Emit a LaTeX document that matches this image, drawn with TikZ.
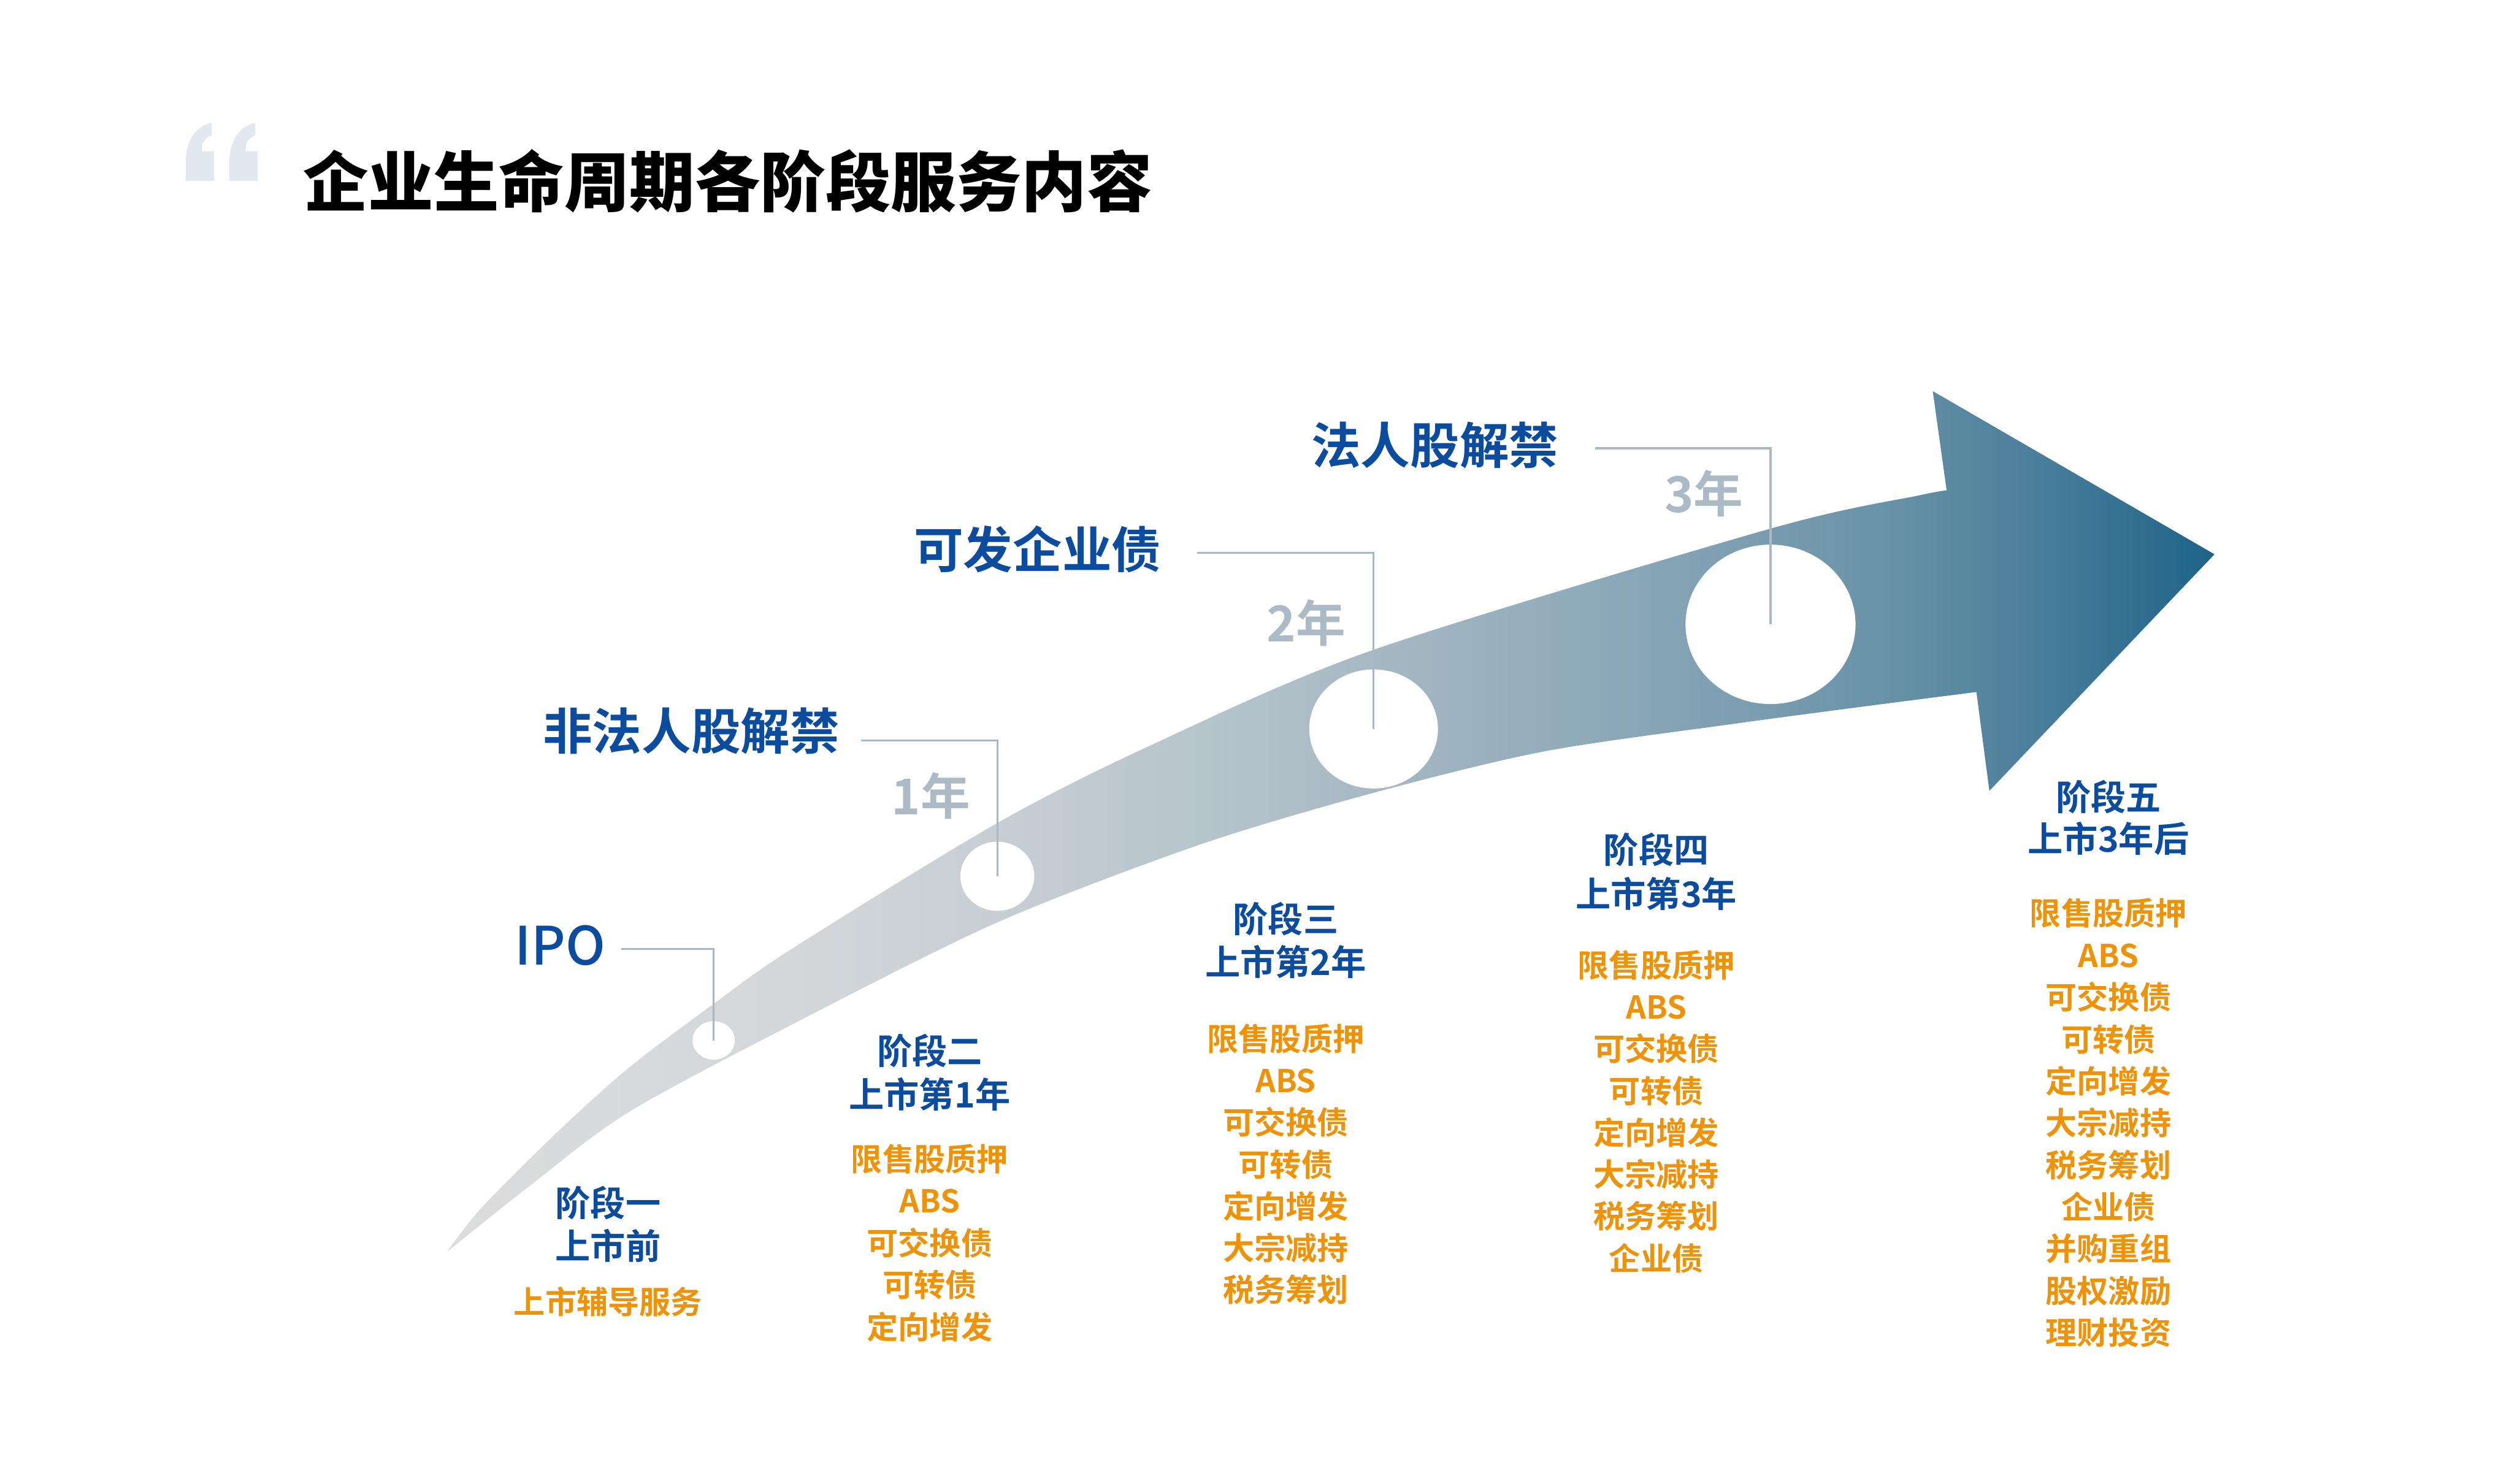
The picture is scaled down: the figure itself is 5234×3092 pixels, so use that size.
\documentclass[tikz,border=0pt]{standalone}
\usepackage{fontspec}
\setmainfont{Noto Sans CJK SC}
\IfFontExistsTF{Noto Sans CJK SC Black}{\newfontfamily\cjkt{Noto Sans CJK SC Black}}{\newfontfamily\cjkt{Noto Sans CJK SC Bold}}
\IfFontExistsTF{Noto Sans CJK SC Medium}{\newfontfamily\cjkm{Noto Sans CJK SC Medium}}{\newfontfamily\cjkm{Noto Sans CJK SC}}
\newfontfamily\cjkb{Noto Sans CJK SC Bold}
\usetikzlibrary{shapes.geometric}
\definecolor{blue1}{HTML}{0B4C9E}
\definecolor{org1}{HTML}{EE9208}
\definecolor{grey1}{HTML}{ABBAC5}
\definecolor{line1}{HTML}{A9B8C3}
\definecolor{quote1}{HTML}{E1E8F0}
\definecolor{s0}{HTML}{DCDCDC}
\definecolor{s1}{HTML}{D3D7DA}
\definecolor{s2}{HTML}{C7CFD4}
\definecolor{s3}{HTML}{B3C2CA}
\definecolor{s4}{HTML}{A7B9C3}
\definecolor{s5}{HTML}{8AA7B7}
\definecolor{s6}{HTML}{6A93A8}
\definecolor{s7}{HTML}{4A7E9B}
\definecolor{s8}{HTML}{1E6388}
\pgfdeclarehorizontalshading{arrowshade}{100bp}{color(0bp)=(s0); color(25bp)=(s0); color(34.75bp)=(s1); color(40.5bp)=(s2); color(47.5bp)=(s3); color(51bp)=(s4); color(58.5bp)=(s5); color(65.5bp)=(s6); color(70bp)=(s7); color(75bp)=(s8); color(100bp)=(s8)}
\tikzset{
  bluehead/.style={font=\cjkb\fontsize{20.8pt}{24pt}\selectfont, text=blue1, anchor=base, inner sep=0pt},
  orgitem/.style={font=\cjkb\fontsize{18.6pt}{22pt}\selectfont, text=org1, anchor=base, inner sep=0pt},
  toplabel/.style={font=\cjkb\fontsize{29.3pt}{34pt}\selectfont, text=blue1, anchor=base east, inner sep=0pt},
  yearlabel/.style={font=\cjkb\fontsize{29.3pt}{34pt}\selectfont, text=grey1, anchor=base east, inner sep=0pt},
  leader/.style={draw=line1, line width=1.15pt},
  hole/.style={ellipse, fill=white, draw=none, inner sep=0pt},
}
\begin{document}
\begin{tikzpicture}[x=0.01cm, y=-0.01cm]
\useasboundingbox (0,0) rectangle (5234,3092);
\fill[white] (0,0) rectangle (5234,3092);
% quote mark
\foreach \qx in {387,478}
  \fill[quote1, shift={(\qx,256)}] (0,121) -- (59,121) -- (59,59) -- (34,59) -- (34,52)
    .. controls (34,40) and (42,30) .. (54,26) -- (54,0)
    .. controls (20,6) and (0,40) .. (0,80) -- cycle;
% title
\node[font=\cjkt\fontsize{38.7pt}{44pt}\selectfont, anchor=base west, inner sep=0pt] (title) at (631,430) {企业生命周期各阶段服务内容};
% arrow band
\shade[shading=arrowshade]
  plot[smooth, tension=0.5] coordinates {(932,2608) (1003,2517) (1156,2364) (1309,2226) (1488,2091) (1650,1977) (2078,1715) (2400,1552) (2862,1354) (3691,1101) (4000,1032) (4056,1022)}
  -- (4027,815) -- (4614,1155) -- (4145,1648) --
  plot[smooth, tension=0.5] coordinates {(4118,1442) (3900,1470) (3600,1510) (3216,1566) (2862,1652) (2500,1760) (2078,1922) (1650,2135) (1309,2318) (1105,2470) (932,2608)}
  -- cycle;
% holes
\node[hole, minimum width=0.88cm, minimum height=0.80cm] (c1) at (1487,2168) {};
\node[hole, minimum width=1.54cm, minimum height=1.44cm] (c2) at (2078,1826) {};
\node[hole, minimum width=2.68cm, minimum height=2.48cm] (c3) at (2862,1519) {};
\node[hole, minimum width=3.54cm, minimum height=3.32cm] (c4) at (3689,1301) {};
% leader lines
\coordinate (k1) at (1294,1977);
\coordinate (k2) at (1794,1543);
\coordinate (k3) at (2494,1152);
\coordinate (k4) at (3323,934);
\draw[leader] (k1) -| (c1.center);
\draw[leader] (k2) -| (c2.center);
\draw[leader] (k3) -| (c3.center);
\draw[leader] (k4) -| (c4.center);
% top labels
\node[toplabel, font=\cjkm\fontsize{31.3pt}{36pt}\selectfont] (ipo) at (1262,2011) {IPO};
\node[toplabel] (lab2) at (1750,1562) {非法人股解禁};
\node[toplabel] (lab3) at (2420,1184) {可发企业债};
\node[toplabel] (lab4) at (3248,967) {法人股解禁};
\node[yearlabel] (y1) at (2022,1698) {1年};
\node[yearlabel] (y2) at (2804,1337) {2年};
\node[yearlabel] (y3) at (3633,1067) {3年};
% column 1
\node[bluehead] (h1a) at (1267,2535) {阶段一};
\node[bluehead] (h1b) at (1267,2624) {上市前};
\node[orgitem] (i1a) at (1267,2738) {上市辅导服务};
% column 2
\node[bluehead] (h2a) at (1937,2218) {阶段二};
\node[bluehead] (h2b) at (1937,2308) {上市第1年};
\foreach \t [count=\i from 0] in {限售股质押,ABS,可交换债,可转债,定向增发}
  \node[orgitem] (i2\i) at (1937,{2415+25+\i*87.5}) {\t};
% column 3
\node[bluehead] (h3a) at (2679,1943) {阶段三};
\node[bluehead] (h3b) at (2679,2033) {上市第2年};
\foreach \t [count=\i from 0] in {限售股质押,ABS,可交换债,可转债,定向增发,大宗减持,税务筹划}
  \node[orgitem] (i3\i) at (2679,{2164+25+\i*87.3}) {\t};
% column 4
\node[bluehead] (h4a) at (3451,1799) {阶段四};
\node[bluehead] (h4b) at (3451,1890) {上市第3年};
\foreach \t [count=\i from 0] in {限售股质押,ABS,可交换债,可转债,定向增发,大宗减持,税务筹划,企业债}
  \node[orgitem] (i4\i) at (3451,{2011+25+\i*87.2}) {\t};
% column 5
\node[bluehead] (h5a) at (4393,1689) {阶段五};
\node[bluehead] (h5b) at (4393,1776) {上市3年后};
\foreach \t [count=\i from 0] in {限售股质押,ABS,可交换债,可转债,定向增发,大宗减持,税务筹划,企业债,并购重组,股权激励,理财投资}
  \node[orgitem] (i5\i) at (4393,{1903+25+\i*87.4}) {\t};
\end{tikzpicture}
\end{document}
